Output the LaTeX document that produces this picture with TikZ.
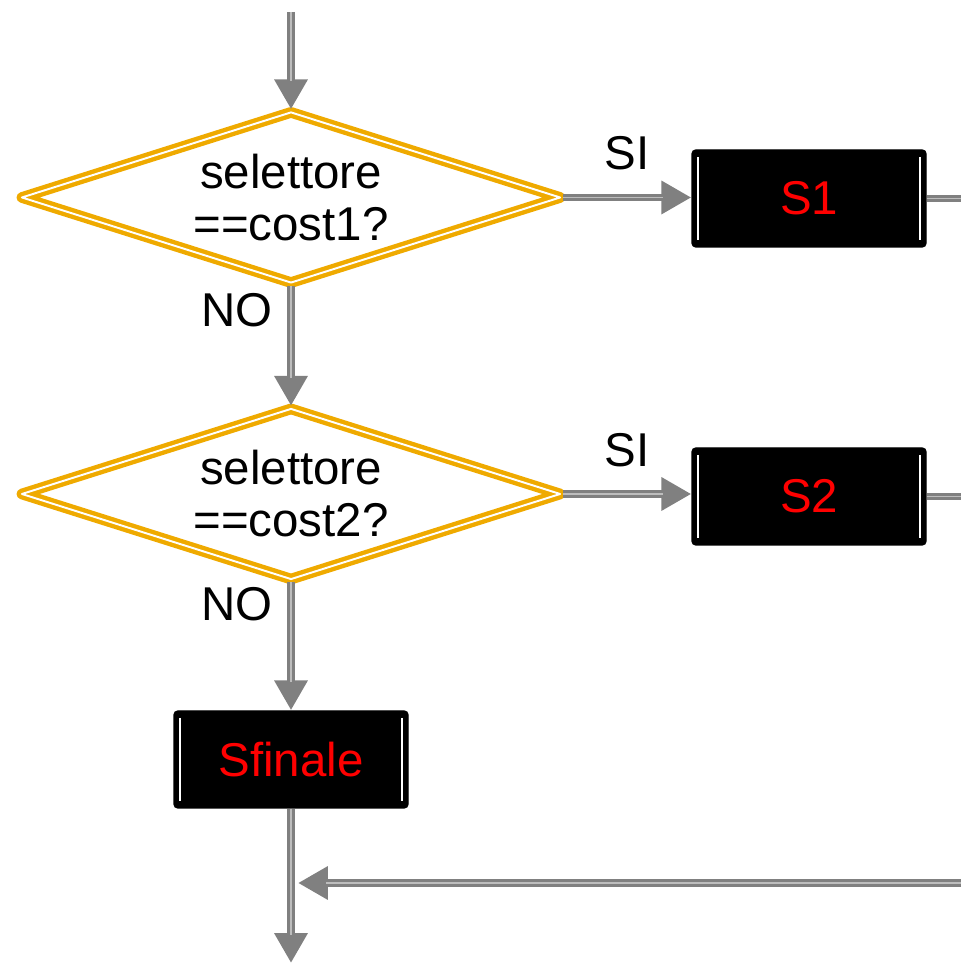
\documentclass[tikz,border=0pt]{standalone}
\usepackage{fontspec}
\setmainfont{Liberation Sans}
\usetikzlibrary{arrows.meta,positioning,shapes.geometric}
\definecolor{gold}{HTML}{EFAA00}
\definecolor{wire}{HTML}{808080}
\definecolor{wirehi}{HTML}{BDBDBD}
\definecolor{statered}{HTML}{FF0000}

\begin{document}
\begin{tikzpicture}[font=\fontsize{13.5}{14.8}\selectfont,
  test/.style={diamond,aspect=3,inner sep=0pt,minimum width=5.4cm,minimum height=1.72cm,
    draw=gold,line width=1.25pt,double=white,double distance=0.55pt,line join=round,align=center},
  block/.style={rectangle,rounded corners=0.04cm,fill=black,draw=black,
    minimum width=2.34cm,minimum height=0.97cm,text=statered,
    path picture={
      \draw[white,line width=0.5pt] ([xshift=0.06cm,yshift=-0.07cm]path picture bounding box.north west)
        -- ([xshift=0.06cm,yshift=0.07cm]path picture bounding box.south west);
      \draw[white,line width=0.5pt] ([xshift=-0.06cm,yshift=-0.07cm]path picture bounding box.north east)
        -- ([xshift=-0.06cm,yshift=0.07cm]path picture bounding box.south east);}},
  flow/.style={draw=wire,line width=2.1pt,-{Triangle[length=8.5pt,width=9pt]},
    postaction={draw=wirehi,line width=0.4pt,-,shorten >=8pt}},
  link/.style={draw=wire,line width=2.1pt,postaction={draw=wirehi,line width=0.4pt}}]
\useasboundingbox (0,0) rectangle (9.61,9.65);

% decisions and states
\node[test] (q1) at (2.91,7.675) {selettore\\==cost1?};
\node[test] (q2) at (2.91,4.71) {selettore\\==cost2?};
\node[block] (s1) at (8.09,7.665) {S1};
\node[block] (s2) at (8.09,4.685) {S2};
\node[block] (sf) at (2.91,2.055) {Sfinale};
\coordinate (start) at (2.91,9.53);
\coordinate (finish) at (2.91,0.02);
\coordinate (back) at (9.61,0.82);

% main flow
\draw[flow] (start) -- (q1.north);
\draw[flow] (q1.south) -- node[pos=0.2,left=0.03cm]{NO} (q2.north);
\draw[flow] (q2.south) -- node[pos=0.17,left=0.03cm]{NO} (sf.north);
\draw[flow] (sf.south) -- (finish);
\draw[flow] (q1.east) -- node[above=0.12cm]{SI} (q1.east -| s1.west);
\draw[flow] (q2.east) -- node[above=0.12cm]{SI} (q2.east -| s2.west);

% exits towards the join
\draw[link] (s1.east) -- (s1.east -| back);
\draw[link] (s2.east) -- (s2.east -| back);
\draw[flow] (back) -- ([xshift=0.07cm]back -| sf.south);
\end{tikzpicture}
\end{document}
